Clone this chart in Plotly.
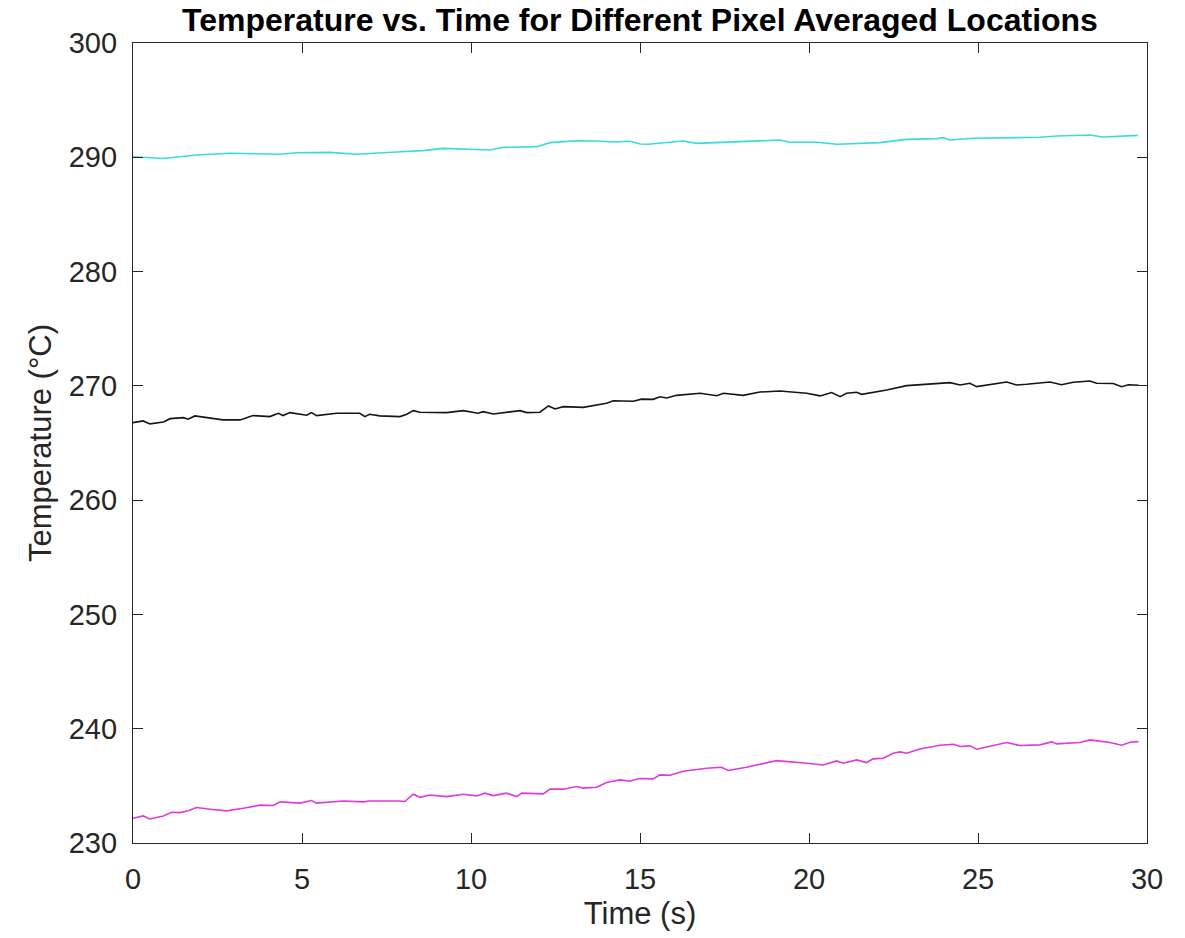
import plotly.graph_objects as go

# Cyan series (highest location)
t_cyan = [0.0, 0.89, 1.88, 2.87, 4.35, 4.84, 5.83, 6.62, 7.8, 8.58, 9.17, 9.77, 10.56, 10.95,
          11.94, 12.34, 13.13, 13.72, 14.2, 14.7, 15.0, 15.24, 16.27, 16.68, 17.96, 19.14, 19.44,
          20.23, 20.82, 22.1, 22.89, 23.78, 23.97, 24.17, 24.86, 25.85, 26.83, 27.33, 28.31,
          28.7, 29.73]
T_cyan = [290.05, 289.9, 290.2, 290.35, 290.26, 290.4, 290.43, 290.26, 290.46, 290.58, 290.78,
          290.7, 290.64, 290.87, 290.93, 291.28, 291.45, 291.43, 291.34, 291.4, 291.16, 291.14,
          291.43, 291.22, 291.36, 291.51, 291.31, 291.31, 291.14, 291.28, 291.57, 291.63, 291.72,
          291.51, 291.66, 291.72, 291.75, 291.86, 291.95, 291.78, 291.92]

# Black series (middle location)
t_black = [0.0, 0.3, 0.5, 0.9, 1.1, 1.49, 1.63, 1.83, 2.66, 3.17, 3.55, 4.05, 4.3, 4.44, 4.64,
           5.14, 5.28, 5.43, 6.02, 6.71, 6.86, 7.0, 7.3, 7.9, 8.1, 8.29, 8.49, 9.28, 9.77, 10.21,
           10.36, 10.66, 11.45, 11.65, 12.04, 12.29, 12.49, 12.73, 13.32, 14.01, 14.21, 14.8,
           15.05, 15.39, 15.59, 15.79, 16.08, 16.78, 17.27, 17.47, 18.05, 18.55, 19.14, 19.93,
           20.33, 20.67, 20.92, 21.11, 21.41, 21.56, 22.3, 22.89, 24.17, 24.47, 24.76, 24.96,
           25.85, 26.14, 26.44, 27.13, 27.47, 27.82, 28.31, 28.51, 29.0, 29.25, 29.45, 29.75]
T_black = [266.78, 266.93, 266.67, 266.84, 267.13, 267.22, 267.08, 267.37, 267.02, 267.02, 267.4,
           267.31, 267.6, 267.4, 267.66, 267.43, 267.66, 267.4, 267.6, 267.6, 267.31, 267.51,
           267.37, 267.31, 267.51, 267.83, 267.69, 267.66, 267.83, 267.6, 267.74, 267.54, 267.83,
           267.66, 267.69, 268.24, 267.98, 268.18, 268.12, 268.47, 268.7, 268.65, 268.84, 268.82,
           269.05, 268.94, 269.17, 269.35, 269.14, 269.35, 269.17, 269.46, 269.55, 269.35, 269.12,
           269.41, 269.05, 269.35, 269.44, 269.26, 269.64, 270.02, 270.28, 270.08, 270.23, 269.93,
           270.34, 270.08, 270.14, 270.34, 270.1, 270.31, 270.43, 270.23, 270.2, 269.93, 270.1,
           270.05]

# Magenta series (lowest location)
t_mag = [0.0, 0.3, 0.5, 0.9, 1.14, 1.39, 1.63, 1.88, 2.28, 2.77, 3.26, 3.76, 4.15, 4.35, 4.94,
         5.28, 5.43, 6.22, 6.81, 7.0, 7.9, 8.04, 8.29, 8.49, 8.78, 9.28, 9.77, 10.17, 10.41,
         10.66, 11.05, 11.35, 11.5, 12.14, 12.34, 12.73, 13.13, 13.32, 13.72, 14.01, 14.41, 14.7,
         14.97, 15.39, 15.59, 15.89, 16.28, 16.97, 17.41, 17.61, 18.15, 18.55, 19.04, 19.93,
         20.42, 20.82, 21.01, 21.41, 21.7, 21.9, 22.2, 22.49, 22.69, 22.89, 23.08, 23.28, 23.88,
         24.27, 24.47, 24.76, 24.96, 25.85, 26.24, 26.83, 27.18, 27.33, 28.02, 28.31, 28.9,
         29.25, 29.5, 29.75]
T_mag = [232.17, 232.37, 232.1, 232.37, 232.69, 232.66, 232.83, 233.1, 232.96, 232.81, 233.04,
         233.31, 233.28, 233.6, 233.49, 233.72, 233.49, 233.68, 233.6, 233.68, 233.68, 233.63,
         234.27, 234.0, 234.2, 234.06, 234.27, 234.12, 234.36, 234.15, 234.36, 234.06, 234.36,
         234.3, 234.71, 234.71, 234.94, 234.8, 234.88, 235.29, 235.52, 235.41, 235.65, 235.61,
         235.96, 235.93, 236.28, 236.54, 236.63, 236.34, 236.63, 236.92, 237.21, 236.98, 236.83,
         237.18, 236.98, 237.27, 237.04, 237.36, 237.42, 237.86, 237.97, 237.86, 238.06, 238.23,
         238.56, 238.64, 238.44, 238.5, 238.21, 238.79, 238.53, 238.59, 238.85, 238.67, 238.79,
         239.02, 238.79, 238.56, 238.82, 238.87]

x_ticks = [0, 5, 10, 15, 20, 25, 30]
y_ticks = [230, 240, 250, 260, 270, 280, 290, 300]

FONT = "Liberation Sans, Arial, sans-serif"
AX = "#262626"

fig = go.Figure()
fig.add_trace(go.Scatter(x=t_cyan, y=T_cyan, mode="lines", line=dict(color="#38DCDC", width=1.6)))
fig.add_trace(go.Scatter(x=t_black, y=T_black, mode="lines", line=dict(color="#151515", width=1.6)))
fig.add_trace(go.Scatter(x=t_mag, y=T_mag, mode="lines", line=dict(color="#E038E0", width=1.6)))

axis_common = dict(
    showgrid=False, zeroline=False, showline=True, linecolor=AX, linewidth=1.2,
    mirror="allticks", ticks="inside", ticklen=10, tickwidth=1.2, tickcolor=AX,
    tickfont=dict(family=FONT, size=29, color=AX), automargin=False,
)

fig.update_layout(
    width=1185, height=938,
    margin=dict(l=125, r=46, t=35, b=103),
    paper_bgcolor="white", plot_bgcolor="white",
    showlegend=False,
    title=dict(text="<b>Temperature vs. Time for Different Pixel Averaged Locations</b>",
               x=0.5, xanchor="center", xref="paper",
               y=0.987, yanchor="middle",
               font=dict(family=FONT, size=32, color="black")),
    xaxis=dict(range=[0, 30], tickvals=x_ticks, ticktext=[str(v) for v in x_ticks],
               title=dict(text="Time (s)", font=dict(family=FONT, size=31, color=AX), standoff=8),
               ticklabelstandoff=10, **axis_common),
    yaxis=dict(range=[230, 300], tickvals=y_ticks, ticktext=[str(v) for v in y_ticks],
               title=dict(text="Temperature (°C)", font=dict(family=FONT, size=31, color=AX), standoff=7),
               ticklabelstandoff=9, **axis_common),
)

fig.write_html("out.html")
